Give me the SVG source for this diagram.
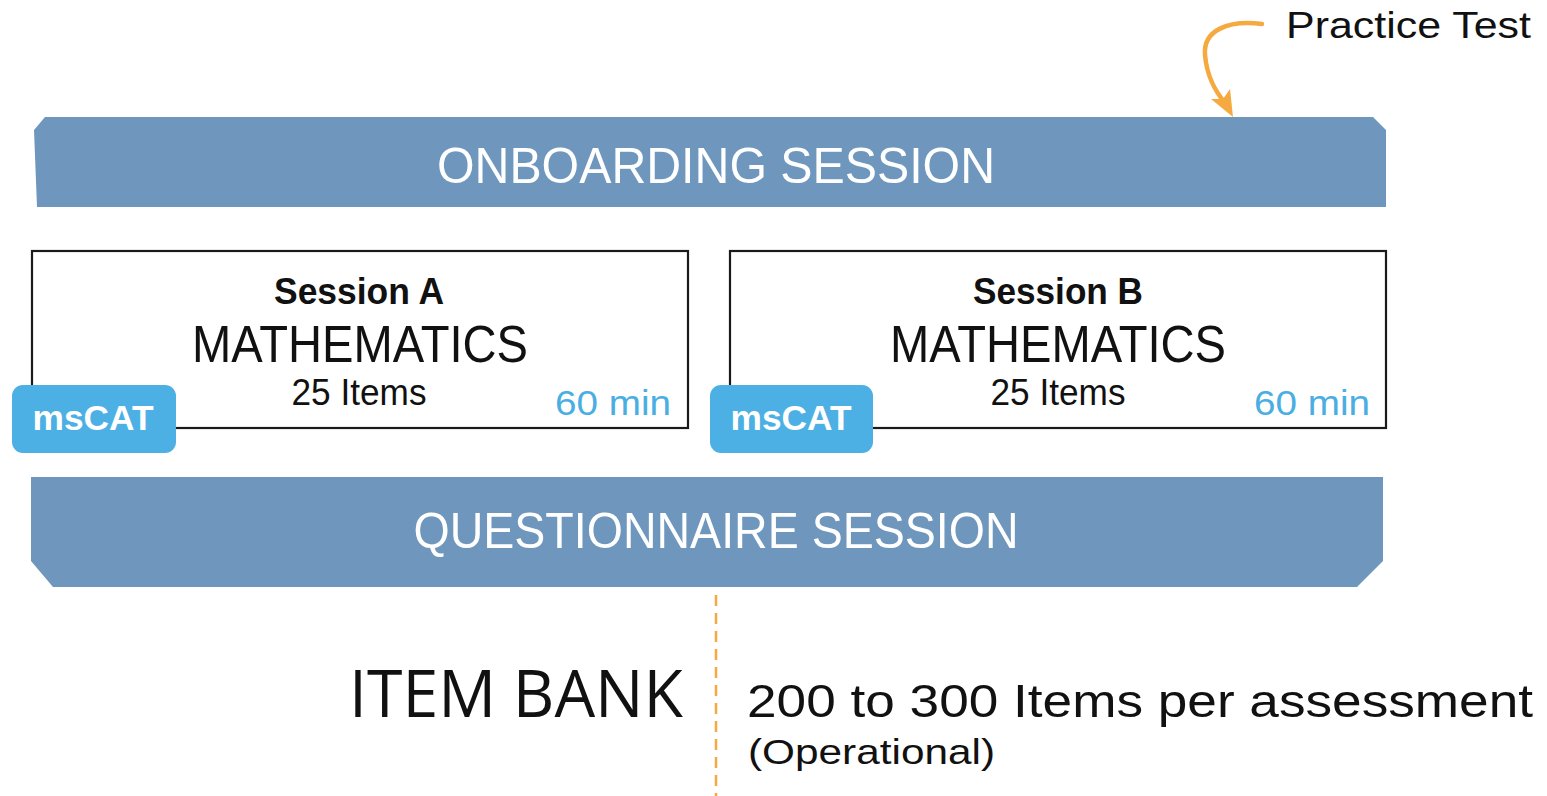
<svg xmlns="http://www.w3.org/2000/svg" width="1547" height="796" viewBox="0 0 1547 796">
<style>
.banner{fill:#6F97BD}
.bannertxt{fill:#FFFFFF;font-family:"Liberation Sans",Arial,sans-serif;font-size:50px;text-anchor:middle}
.box{fill:#FFFFFF;stroke:#1A1A1A;stroke-width:2.2}
.badge{fill:#4DB0E4}
.badgetxt{fill:#FFFFFF;font-family:"Liberation Sans",Arial,sans-serif;font-weight:bold;font-size:35px;text-anchor:middle}
.sess{fill:#111111;font-family:"Liberation Sans",Arial,sans-serif;font-weight:bold;font-size:36px;text-anchor:middle}
.math{fill:#111111;font-family:"Liberation Sans",Arial,sans-serif;font-size:52px;text-anchor:middle}
.items{fill:#111111;font-family:"Liberation Sans",Arial,sans-serif;font-size:37px;text-anchor:middle}
.min{fill:#4AAEE3;font-family:"Liberation Sans",Arial,sans-serif;font-size:35px;text-anchor:end}
.plain{fill:#111111;font-family:"Liberation Sans",Arial,sans-serif}
.orange{stroke:#F5A93F;fill:none}
</style>
<g id="onboarding">
<polygon class="banner" points="45,117 1373,117 1386,130 1386,207 37,207 34,130"/>
<text class="bannertxt" x="716" y="183" textLength="558" lengthAdjust="spacingAndGlyphs">ONBOARDING SESSION</text>
</g>
<g id="sessionA">
<rect class="box" x="32" y="251" width="656" height="177"/>
<text class="sess" x="359" y="304" textLength="170" lengthAdjust="spacingAndGlyphs">Session A</text>
<text class="math" x="360" y="362" textLength="336" lengthAdjust="spacingAndGlyphs">MATHEMATICS</text>
<text class="items" x="359" y="405" textLength="135" lengthAdjust="spacingAndGlyphs">25 Items</text>
<text class="min" x="671" y="415" textLength="116" lengthAdjust="spacingAndGlyphs">60 min</text>
</g>
<g id="badgeA">
<rect class="badge" x="12" y="385" width="164" height="68" rx="11"/>
<text class="badgetxt" x="93" y="430" textLength="121" lengthAdjust="spacingAndGlyphs">msCAT</text>
</g>
<g id="sessionB">
<rect class="box" x="730" y="251" width="656" height="177"/>
<text class="sess" x="1058" y="304" textLength="170" lengthAdjust="spacingAndGlyphs">Session B</text>
<text class="math" x="1058" y="362" textLength="336" lengthAdjust="spacingAndGlyphs">MATHEMATICS</text>
<text class="items" x="1058" y="405" textLength="135" lengthAdjust="spacingAndGlyphs">25 Items</text>
<text class="min" x="1370" y="415" textLength="116" lengthAdjust="spacingAndGlyphs">60 min</text>
</g>
<g id="badgeB">
<rect class="badge" x="710" y="385" width="163" height="68" rx="11"/>
<text class="badgetxt" x="791" y="430" textLength="121" lengthAdjust="spacingAndGlyphs">msCAT</text>
</g>
<g id="questionnaire">
<polygon class="banner" points="31,477 1383,477 1383,561 1357,587 53,587 31,561"/>
<text class="bannertxt" x="716" y="548" textLength="605" lengthAdjust="spacingAndGlyphs">QUESTIONNAIRE SESSION</text>
</g>
<g id="practiceTest">
<text class="plain" x="1286" y="38" font-size="37" textLength="245" lengthAdjust="spacingAndGlyphs">Practice Test</text>
</g>
<g id="itemBank">
<text x="683" y="717" font-family="'Open Sans','Liberation Sans',sans-serif" font-size="66" fill="#111111" text-anchor="end" textLength="334" lengthAdjust="spacingAndGlyphs">ITEM BANK</text>
</g>
<g id="itemCount">
<text class="plain" x="747" y="717" font-size="47" textLength="786" lengthAdjust="spacingAndGlyphs">200 to 300 Items per assessment</text>
<text class="plain" x="748" y="764" font-size="35" textLength="247" lengthAdjust="spacingAndGlyphs">(Operational)</text>
</g>
<g id="connectors">
<path class="orange" stroke-width="4.5" stroke-linecap="round" d="M1262,24 C1228,20 1203,30 1205,55 C1207,78 1216,92 1225,103"/>
<polygon fill="#F5A93F" points="1233,117 1211,99 1223,99 1230,89"/>
<line class="orange" x1="716" y1="595" x2="716" y2="796" stroke-width="2.5" stroke-dasharray="11,7"/>
</g>
</svg>
